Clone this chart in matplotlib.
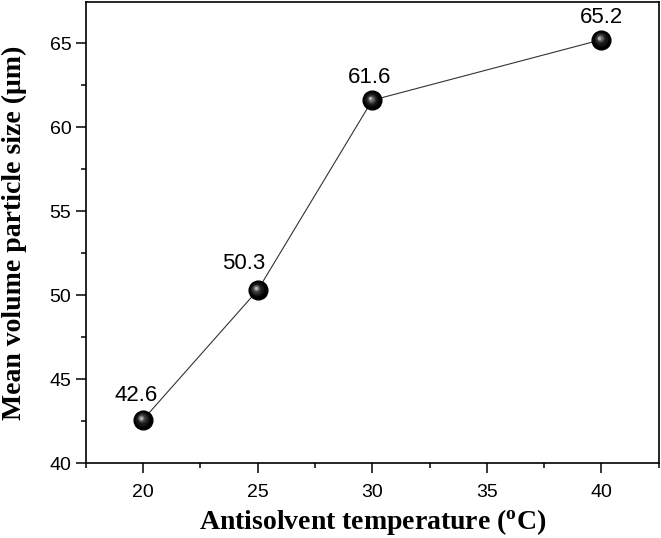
import numpy as np
import matplotlib.pyplot as plt
from matplotlib.ticker import MultipleLocator
from matplotlib.transforms import offset_copy

# data
temperature = [20, 25, 30, 40]
particle_size = [42.6, 50.3, 61.6, 65.2]
point_labels = ['42.6', '50.3', '61.6', '65.2']

# label offsets in pixels (dx, dy) relative to each point
label_offsets = [(-7, 19), (-14, 21), (-3, 17), (0, 17)]

fig = plt.figure(figsize=(6.61, 5.38), dpi=100)
ax = fig.add_axes([0.130, 0.139, 0.8665, 0.8575])

ax.plot(temperature, particle_size, color='#333333', lw=0.8, zorder=2)

# shaded spheres: dark base plus lighter layers nudged up-left
ax.plot(temperature, particle_size, 'o', ms=13.5, color='black',
        mec='black', zorder=3)
shades = [(10, '#151515', -0.6, 0.6), (7, '#333333', -1.0, 1.0),
          (4.5, '#6a6a6a', -1.3, 1.2), (2.5, '#b0b0b0', -1.5, 1.4)]
for ms, col, dx, dy in shades:
    tr = offset_copy(ax.transData, fig=fig, x=dx, y=dy, units='points')
    ax.plot(temperature, particle_size, 'o', ms=ms, color=col,
            mec='none', transform=tr, zorder=4)

for x, y, txt, (dx, dy) in zip(temperature, particle_size, point_labels,
                               label_offsets):
    ax.annotate(txt, (x, y), xytext=(dx * 0.72, dy * 0.72),
                textcoords='offset points', ha='center', va='baseline',
                fontsize=16, family='Liberation Sans')

ax.set_xlim(17.5, 42.5)
ax.set_ylim(40, 67.45)
ax.xaxis.set_major_locator(MultipleLocator(5))
ax.xaxis.set_minor_locator(MultipleLocator(2.5))
ax.yaxis.set_major_locator(MultipleLocator(5))
ax.yaxis.set_minor_locator(MultipleLocator(2.5))
ax.tick_params(which='both', direction='out', width=1.1)
ax.tick_params(which='major', length=7, labelsize=14, pad=3.5)
ax.tick_params(axis='x', which='major', pad=8)
ax.tick_params(which='minor', length=3.5)
for lab in ax.get_xticklabels() + ax.get_yticklabels():
    lab.set_family('Liberation Sans')
for sp in ax.spines.values():
    sp.set_linewidth(1.2)

ax.set_xlabel('Antisolvent temperature ($\\mathregular{^o}$C)',
              family='Liberation Serif', fontweight='bold', fontsize=20,
              labelpad=4)
ax.set_ylabel('Mean volume particle size (μm)',
              family='Liberation Serif', fontweight='bold', fontsize=20,
              labelpad=16)

fig.savefig('out.png', dpi=100)
